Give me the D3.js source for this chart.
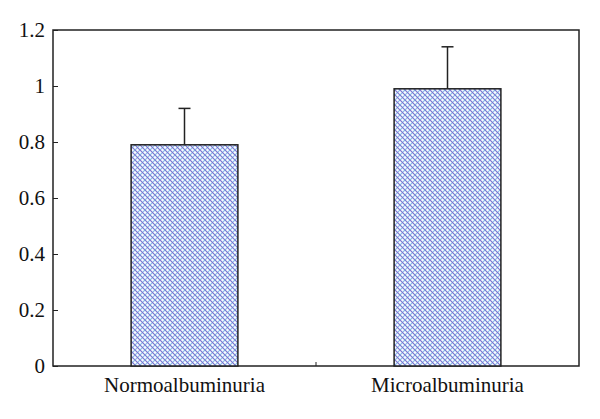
<!DOCTYPE html>
<html><head><meta charset="utf-8">
<script src="https://cdn.jsdelivr.net/npm/d3@7"></script>
<style>body{margin:0;background:#fff}svg{display:block}</style>
</head><body>
<svg id="c" width="600" height="419"></svg>
<script>
const categories = ["Normoalbuminuria", "Microalbuminuria"];
const values = [0.79, 0.99];
const errors = [0.13, 0.15];
const yTicks = [0, 0.2, 0.4, 0.6, 0.8, 1, 1.2];

const svg = d3.select("#c");
const m = {l: 53, r: 579, t: 30, b: 366};
const x = d3.scaleBand().domain(categories).range([m.l, m.r]).paddingInner(0.594).paddingOuter(0.297);
const y = d3.scaleLinear().domain([0, 1.2]).range([m.b, m.t]);

const defs = svg.append("defs");
const P = 5;
const pat = defs.append("pattern").attr("id", "hatch").attr("patternUnits", "userSpaceOnUse")
  .attr("width", P).attr("height", P);
pat.append("rect").attr("width", P).attr("height", P).attr("fill", "#f8faff");
pat.append("path").attr("d", `M-1,1 l2,-2 M0,${P} l${P},-${P} M${P-1},${P+1} l2,-2`).attr("stroke", "#84bdea").attr("stroke-width", 1.15);
pat.append("path").attr("d", `M-1,${P-1} l2,2 M0,0 l${P},${P} M${P-1},-1 l2,2`).attr("stroke", "#7a74d0").attr("stroke-width", 1.15);

const font = "'Liberation Serif', 'DejaVu Serif', serif";

// frame
svg.append("rect").attr("x", m.l).attr("y", m.t).attr("width", m.r - m.l).attr("height", m.b - m.t)
  .attr("fill", "none").attr("stroke", "#222").attr("stroke-width", 1.5);

// bars
svg.selectAll(".bar").data(categories).enter().append("rect")
  .attr("x", d => x(d)).attr("width", x.bandwidth())
  .attr("y", (d, i) => y(values[i])).attr("height", (d, i) => y(0) - y(values[i]))
  .attr("fill", "url(#hatch)").attr("stroke", "#222").attr("stroke-width", 1.5);

// error bars
categories.forEach((c, i) => {
  const cx = x(c) + x.bandwidth() / 2;
  svg.append("line").attr("x1", cx).attr("x2", cx).attr("y1", y(values[i])).attr("y2", y(values[i] + errors[i]))
    .attr("stroke", "#222").attr("stroke-width", 1.5);
  svg.append("line").attr("x1", cx - 6).attr("x2", cx + 6).attr("y1", y(values[i] + errors[i])).attr("y2", y(values[i] + errors[i]))
    .attr("stroke", "#222").attr("stroke-width", 1.5);
});

// y axis
const ya = svg.append("g").attr("transform", `translate(${m.l},0)`)
  .call(d3.axisRight(y).tickValues(yTicks).tickSize(5).tickFormat(d => d3.format("")(d)));
ya.attr("font-family", font).attr("font-size", 21);
ya.select(".domain").remove();
ya.selectAll("line").attr("stroke", "#222").attr("stroke-width", 1);
ya.selectAll("text").attr("x", -8).attr("text-anchor", "end")
  .style("font-family", font).style("font-size", "21px").attr("fill", "#111");

// x axis middle tick and labels
const xa = svg.append("g").attr("transform", `translate(0,${m.b})`)
  .call(d3.axisBottom(x).tickSize(0).tickPadding(11));
xa.attr("font-family", font).attr("font-size", 21);
xa.select(".domain").remove();
xa.selectAll("text").style("font-family", font).style("font-size", "21px").attr("fill", "#111");
const mid = (x(categories[0]) + x.bandwidth() + x(categories[1])) / 2;
svg.append("line").attr("x1", mid).attr("x2", mid).attr("y1", m.b).attr("y2", m.b - 4).attr("stroke", "#222");
</script>
</body></html>
